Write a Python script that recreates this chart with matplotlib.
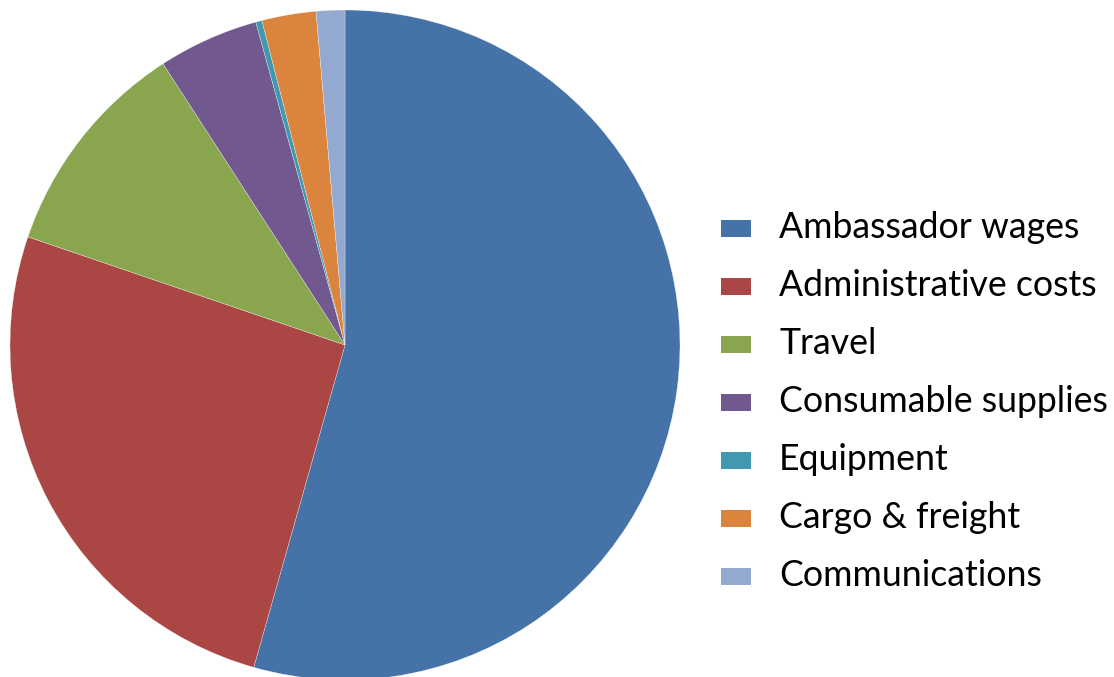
import matplotlib
matplotlib.use("Agg")
import matplotlib.pyplot as plt
from matplotlib.patches import Rectangle

labels = ["Ambassador wages", "Administrative costs", "Travel", "Consumable supplies",
          "Equipment", "Cargo & freight", "Communications"]
shares = [54.39, 25.84, 10.63, 4.85, 0.30, 2.61, 1.38]
colors = ["#4572A7", "#AA4643", "#89A54E", "#71588F", "#4198AF", "#DB843D", "#93A9CF"]

W, H = 1114, 677
fig = plt.figure(figsize=(W / 100, H / 100), dpi=100)
ax = fig.add_axes([0, 0, 1, 1])

# pie in pixel coordinates, y up
ax.pie(shares, colors=colors, startangle=90, counterclock=False,
       center=(345, H - 345), radius=335,
       wedgeprops=dict(linewidth=0.2, edgecolor="#ffffff"))
ax.set_xlim(0, W)
ax.set_ylim(0, H)
ax.set_aspect("auto")
ax.axis("off")

# legend, drawn by hand to hit the spacing
row0, step = 228, 58
for i, (lab, col) in enumerate(zip(labels, colors)):
    y = H - (row0 + i * step)
    ax.add_patch(Rectangle((721, y - 8.5), 30, 17, facecolor=col, edgecolor="none"))
    ax.text(779, y, lab, fontsize=25.7, family="Lato", va="center", ha="left", color="#000000")

fig.savefig("out.png", dpi=100)
